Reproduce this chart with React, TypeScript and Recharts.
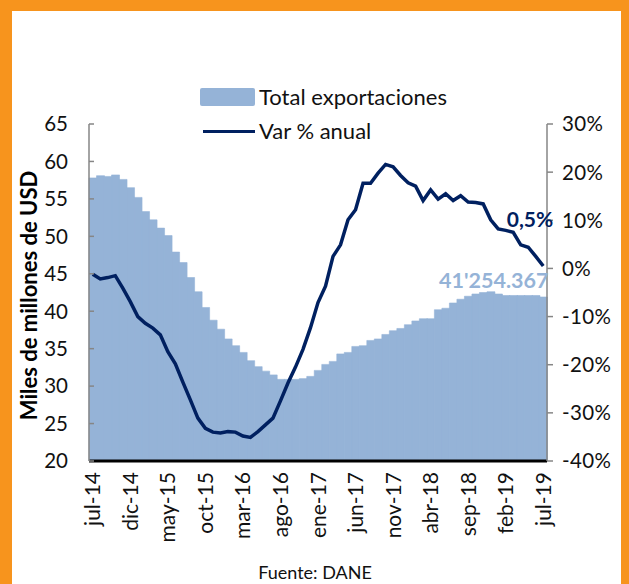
import React from 'react';
import { ComposedChart, Bar, Line, XAxis, YAxis, LabelList } from 'recharts';

const categories = [
  'jul-14', 'ago-14', 'sep-14', 'oct-14', 'nov-14', 'dic-14',
  'ene-15', 'feb-15', 'mar-15', 'abr-15', 'may-15', 'jun-15', 'jul-15', 'ago-15', 'sep-15', 'oct-15', 'nov-15', 'dic-15',
  'ene-16', 'feb-16', 'mar-16', 'abr-16', 'may-16', 'jun-16', 'jul-16', 'ago-16', 'sep-16', 'oct-16', 'nov-16', 'dic-16',
  'ene-17', 'feb-17', 'mar-17', 'abr-17', 'may-17', 'jun-17', 'jul-17', 'ago-17', 'sep-17', 'oct-17', 'nov-17', 'dic-17',
  'ene-18', 'feb-18', 'mar-18', 'abr-18', 'may-18', 'jun-18', 'jul-18', 'ago-18', 'sep-18', 'oct-18', 'nov-18', 'dic-18',
  'ene-19', 'feb-19', 'mar-19', 'abr-19', 'may-19', 'jun-19', 'jul-19',
];

// Total exportaciones (miles de millones de USD, acumulado 12 meses)
const totalExportaciones = [
  57.8, 58.1, 58.0, 58.2, 57.6, 56.5,
  55.2, 53.3, 52.2, 51.1, 50.1, 47.9, 46.5, 44.5, 42.6, 40.5, 38.8, 37.6,
  36.3, 35.4, 34.5, 33.4, 32.6, 32.0, 31.5, 30.9, 30.9, 30.9, 31.0, 31.3,
  32.1, 32.9, 33.3, 34.3, 34.5, 35.3, 35.4, 36.1, 36.3, 36.9, 37.4, 37.7,
  38.2, 38.7, 39.0, 39.0, 40.2, 40.4, 41.1, 41.6, 42.0, 42.3, 42.5, 42.6,
  42.3, 42.1, 42.1, 42.1, 42.1, 42.1, 41.9,
];

// Var % anual
const varAnual = [
  -1.2, -2.2, -1.9, -1.5, -4.1, -6.9,
  -10.0, -11.4, -12.4, -13.8, -17.3, -19.8, -23.6, -27.3, -31.1, -33.2, -34.0, -34.2,
  -33.9, -34.0, -34.8, -35.1, -33.9, -32.5, -31.1, -27.5, -23.8, -20.5, -16.8, -12.3,
  -7.1, -3.7, 2.5, 4.9, 10.1, 12.2, 17.7, 17.7, 19.8, 21.6, 21.1, 19.3,
  17.8, 17.1, 14.1, 16.3, 14.4, 15.5, 14.1, 15.1, 13.8, 13.7, 13.4, 10.1,
  8.2, 7.9, 7.5, 4.9, 4.4, 2.5, 0.5,
];

const leftTicks = [20, 25, 30, 35, 40, 45, 50, 55, 60, 65];
const rightTicks = [-40, -30, -20, -10, 0, 10, 20, 30];

const legendBarLabel = 'Total exportaciones';
const legendLineLabel = 'Var % anual';
const yTitle = 'Miles de millones de USD';
const sourceText = 'Fuente: DANE';
const lastTotalLabel = "41'254.367";
const lastVarLabel = '0,5%';

const data = categories.map((mes, i) => ({
  mes,
  total: totalExportaciones[i],
  variacion: varAnual[i],
}));

const FONT = 'Lato, "Noto Sans", sans-serif';
const NAVY = '#002060';
const BLUE = '#95B3D7';
const ORANGE = '#F7941D';
const GRAY = '#868686';

const LeftTick = (props: any) => {
  const { x, y, payload } = props;
  return (
    <g>
      <line x1={x + 21} x2={x + 26} y1={y} y2={y} stroke={GRAY} strokeWidth={1.5} />
      <text x={x} y={y} dy="0.36em" textAnchor="end" fontSize={20.5} fill="#111" fontFamily={FONT}>
        {payload.value}
      </text>
    </g>
  );
};

const RightTick = (props: any) => {
  const { x, y, payload } = props;
  return (
    <text x={x} y={y} dy="0.36em" textAnchor="start" fontSize={20.5} fill="#111" fontFamily={FONT} letterSpacing={0.4}>
      {`${payload.value}%`}
    </text>
  );
};

const XTick = (props: any) => {
  const { x, y, payload } = props;
  return (
    <text
      x={x}
      y={y}
      dy="0.36em"
      textAnchor="end"
      transform={`rotate(-90 ${x} ${y})`}
      fontSize={21}
      fill="#111"
      fontFamily={FONT}
    >
      {payload.value}
    </text>
  );
};

const YTitle = (props: any) => {
  const vb = props.viewBox || {};
  const cx = (vb.x || 0) + 29;
  const cy = (vb.y || 0) + (vb.height || 0) / 2 + 3;
  return (
    <text
      x={cx}
      y={cy}
      dy="0.36em"
      textAnchor="middle"
      transform={`rotate(-90 ${cx} ${cy})`}
      fontSize={22}
      fontWeight="bold"
      fill="#000"
      fontFamily={FONT}
    >
      {yTitle}
    </text>
  );
};

const SourceLabel = (props: any) => {
  const vb = props.viewBox || {};
  const cx = (vb.x || 0) + (vb.width || 0) / 2 - 3;
  const cy = (vb.y || 0) + (vb.height || 0) - 11;
  return (
    <text x={cx} y={cy} dy="0.36em" textAnchor="middle" fontSize={18} fill="#111" fontFamily={FONT}>
      {sourceText}
    </text>
  );
};

const LastBarLabel = (props: any) => {
  const { x, y, width, index } = props;
  if (index !== data.length - 1) return null;
  return (
    <text
      x={x + width / 2 + 5}
      y={y - 17}
      dy="0.36em"
      textAnchor="end"
      fontSize={21.5}
      fontWeight="bold"
      fill={BLUE}
      fontFamily={FONT}
    >
      {lastTotalLabel}
    </text>
  );
};

const LastLineLabel = (props: any) => {
  const { x, y, index } = props;
  if (index !== data.length - 1) return null;
  return (
    <text
      x={x + 10}
      y={y - 47}
      dy="0.36em"
      textAnchor="end"
      fontSize={21}
      fontWeight="bold"
      fill={NAVY}
      fontFamily={FONT}
    >
      {lastVarLabel}
    </text>
  );
};

export default function App() {
  return (
    <div style={{ position: 'absolute', left: 0, top: 0, width: 629, height: 584, background: ORANGE, overflow: 'hidden' }}>
      <div style={{ position: 'absolute', left: 12, top: 11, width: 609, height: 573, background: '#fff' }} />
      <div style={{ position: 'absolute', left: 0, top: 0 }}>
        <ComposedChart
          width={629}
          height={584}
          data={data}
          margin={{ top: 124, right: 0, bottom: 0, left: 0 }}
          barCategoryGap={0}
          barGap={0}
        >
          <Bar
            yAxisId="left"
            dataKey="total"
            fill={BLUE}
            stroke={BLUE}
            strokeWidth={0.6}
            isAnimationActive={false}
          >
            <LabelList dataKey="total" content={<LastBarLabel />} />
          </Bar>
          <Line
            yAxisId="right"
            dataKey="variacion"
            type="linear"
            stroke={NAVY}
            strokeWidth={3.5}
            dot={false}
            activeDot={false}
            isAnimationActive={false}
          >
            <LabelList dataKey="variacion" content={<LastLineLabel />} />
          </Line>
          <XAxis
            dataKey="mes"
            height={123}
            interval={4}
            tickLine={false}
            tickSize={0}
            tickMargin={11}
            axisLine={{ stroke: '#000', strokeWidth: 3 }}
            tick={<XTick />}
            label={{ content: <SourceLabel /> }}
          />
          <YAxis
            yAxisId="left"
            width={89}
            domain={[20, 65]}
            ticks={leftTicks}
            interval={0}
            tickLine={false}
            tickSize={0}
            tickMargin={21}
            axisLine={{ stroke: GRAY, strokeWidth: 1.5 }}
            tick={<LeftTick />}
            label={{ content: <YTitle /> }}
          />
          <YAxis
            yAxisId="right"
            orientation="right"
            width={82}
            domain={[-40, 30]}
            ticks={rightTicks}
            interval={0}
            tickSize={6}
            tickMargin={9}
            tickLine={{ stroke: GRAY, strokeWidth: 1.5 }}
            axisLine={{ stroke: GRAY, strokeWidth: 1.5 }}
            tick={<RightTick />}
          />
        </ComposedChart>
      </div>
      <div style={{ position: 'absolute', left: 200, top: 88, width: 55, height: 18, background: BLUE, borderRadius: 2 }} />
      <div style={{ position: 'absolute', left: 259, top: 83, fontFamily: FONT, fontSize: 22, lineHeight: '27px', color: '#111', whiteSpace: 'nowrap' }}>
        {legendBarLabel}
      </div>
      <div style={{ position: 'absolute', left: 203, top: 129.5, width: 52, height: 3.5, background: NAVY }} />
      <div style={{ position: 'absolute', left: 259, top: 117, fontFamily: FONT, fontSize: 22, lineHeight: '27px', color: '#111', whiteSpace: 'nowrap' }}>
        {legendLineLabel}
      </div>
    </div>
  );
}
